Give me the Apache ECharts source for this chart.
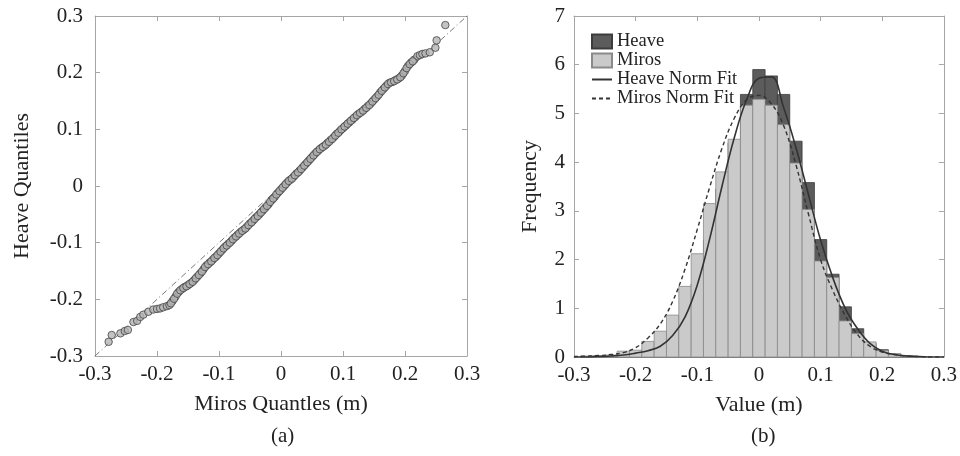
<!DOCTYPE html>
<html>
<head>
<meta charset="utf-8">
<script src="https://cdn.jsdelivr.net/npm/echarts@6.0.0/dist/echarts.min.js"></script>
<style>
  html, body { margin: 0; padding: 0; background: #fff; }
  #chart { width: 960px; height: 456px; }
</style>
</head>
<body>
<div id="chart"></div>
<script>
// (a) Q-Q plot, quantile pairs
const qqMiros = [
  -0.278, -0.273, -0.259, -0.252, -0.247, -0.238, -0.232, -0.227, -0.222, -0.214,
  -0.206, -0.200, -0.195, -0.190, -0.184,
  -0.180, -0.175, -0.170, -0.165, -0.160, -0.155, -0.150, -0.145, -0.140, -0.135,
  -0.130, -0.125, -0.120, -0.115, -0.110, -0.105, -0.100, -0.095, -0.090, -0.085,
  -0.080, -0.075, -0.070, -0.065, -0.060, -0.055, -0.050, -0.045, -0.040, -0.035,
  -0.030, -0.025, -0.020, -0.015, -0.010, -0.005, 0.000, 0.005, 0.010, 0.015,
  0.020, 0.025, 0.030, 0.035, 0.040, 0.045, 0.050, 0.055, 0.060, 0.065,
  0.070, 0.075, 0.080, 0.085, 0.090, 0.095, 0.100, 0.105, 0.110, 0.115,
  0.120, 0.125, 0.130, 0.135, 0.140, 0.145, 0.150, 0.155, 0.160, 0.165,
  0.170, 0.175, 0.180, 0.185, 0.190, 0.195, 0.200, 0.205, 0.210, 0.215,
  0.220, 0.224, 0.228, 0.233, 0.240, 0.249, 0.251, 0.265
];
const qqHeave = [
  -0.275, -0.263, -0.260, -0.256, -0.254, -0.240, -0.238, -0.231, -0.227, -0.222,
  -0.218, -0.217, -0.216, -0.214, -0.212,
  -0.210, -0.203, -0.195, -0.187, -0.182, -0.178, -0.175, -0.171, -0.166, -0.160,
  -0.154, -0.147, -0.140, -0.135, -0.130, -0.125, -0.119, -0.113, -0.107, -0.102,
  -0.097, -0.091, -0.086, -0.081, -0.077, -0.072, -0.066, -0.061, -0.055, -0.050,
  -0.044, -0.038, -0.032, -0.025, -0.019, -0.012, -0.006, 0.000, 0.006, 0.011,
  0.016, 0.022, 0.027, 0.033, 0.039, 0.045, 0.051, 0.057, 0.062, 0.067,
  0.071, 0.076, 0.081, 0.086, 0.092, 0.097, 0.102, 0.107, 0.112, 0.117,
  0.122, 0.127, 0.131, 0.136, 0.141, 0.146, 0.152, 0.158, 0.165, 0.171,
  0.177, 0.182, 0.184, 0.187, 0.190, 0.195, 0.203, 0.212, 0.218, 0.223,
  0.229, 0.231, 0.233, 0.234, 0.236, 0.244, 0.257, 0.284
];
// extra quantile pairs from the dense middle of the band
const qqMirosMid = [
  -0.1775, -0.1725, -0.1675, -0.1625, -0.1575, -0.1525, -0.1475, -0.1425, -0.1375, -0.1325,
  -0.1275, -0.1225, -0.1175, -0.1125, -0.1075, -0.1025, -0.0975, -0.0925, -0.0875, -0.0825,
  -0.0775, -0.0725, -0.0675, -0.0625, -0.0575, -0.0525, -0.0475, -0.0425, -0.0375, -0.0325,
  -0.0275, -0.0225, -0.0175, -0.0125, -0.0075, -0.0025, 0.0025, 0.0075, 0.0125, 0.0175,
  0.0225, 0.0275, 0.0325, 0.0375, 0.0425, 0.0475, 0.0525, 0.0575, 0.0625, 0.0675,
  0.0725, 0.0775, 0.0825, 0.0875, 0.0925, 0.0975, 0.1025, 0.1075, 0.1125, 0.1175,
  0.1225, 0.1275, 0.1325, 0.1375, 0.1425, 0.1475, 0.1525, 0.1575, 0.1625, 0.1675,
  0.1725, 0.1775, 0.1825, 0.1875, 0.1925, 0.1975, 0.2025, 0.2075, 0.2125
];
const qqHeaveMid = [
  -0.207, -0.199, -0.190, -0.184, -0.180, -0.177, -0.173, -0.169, -0.163, -0.157,
  -0.151, -0.143, -0.138, -0.133, -0.127, -0.122, -0.116, -0.110, -0.105, -0.100,
  -0.094, -0.089, -0.084, -0.079, -0.075, -0.069, -0.064, -0.058, -0.053, -0.047,
  -0.041, -0.035, -0.028, -0.022, -0.015, -0.009, -0.003, 0.003, 0.009, 0.013,
  0.019, 0.024, 0.030, 0.036, 0.042, 0.048, 0.054, 0.060, 0.065, 0.069,
  0.073, 0.078, 0.083, 0.089, 0.094, 0.100, 0.105, 0.110, 0.115, 0.120,
  0.125, 0.129, 0.133, 0.138, 0.143, 0.149, 0.155, 0.161, 0.168, 0.174,
  0.180, 0.183, 0.185, 0.188, 0.192, 0.199, 0.208, 0.215, 0.220
];
const refLine = [[-0.3, -0.3], [0.3, 0.3]];
const qqTicks = [-0.3, -0.2, -0.1, 0, 0.1, 0.2, 0.3];

// (b) histogram, bin centres (width 0.02)
const binCenters = [
  -0.28, -0.26, -0.24, -0.22, -0.20, -0.18, -0.16, -0.14, -0.12, -0.10,
  -0.08, -0.06, -0.04, -0.02, 0.00, 0.02, 0.04, 0.06, 0.08, 0.10,
  0.12, 0.14, 0.16, 0.18, 0.20, 0.22, 0.24, 0.26
];
const binWidth = 0.02;
const heaveFreq = [
  0.01, 0.01, 0.02, 0.04, 0.08, 0.15, 0.30, 0.50, 0.85, 1.50,
  2.40, 3.45, 4.40, 5.39, 5.90, 5.77, 5.39, 4.43, 3.58, 2.41,
  1.70, 1.03, 0.58, 0.28, 0.15, 0.06, 0.02, 0.01
];
const mirosFreq = [
  0.02, 0.03, 0.04, 0.12, 0.14, 0.32, 0.53, 0.86, 1.45, 2.12,
  3.15, 3.80, 4.47, 5.17, 5.29, 5.17, 4.77, 3.98, 3.03, 1.97,
  1.63, 0.74, 0.48, 0.31, 0.13, 0.07, 0.03, 0.01
];
const fitX = [
  -0.30, -0.28, -0.26, -0.24, -0.22, -0.20, -0.18, -0.16, -0.14, -0.12, -0.10,
  -0.08, -0.06, -0.04, -0.02, 0.00, 0.02, 0.04, 0.06, 0.08, 0.10,
  0.12, 0.14, 0.16, 0.18, 0.20, 0.22, 0.24, 0.26, 0.28, 0.30
];
const heaveFit = [
  0.00, 0.00, 0.01, 0.02, 0.04, 0.08, 0.13, 0.22, 0.44, 0.82, 1.48,
  2.42, 3.50, 4.50, 5.28, 5.72, 5.75, 5.12, 4.30, 3.35, 2.40,
  1.62, 1.00, 0.58, 0.28, 0.12, 0.05, 0.02, 0.01, 0.00, 0.00
];
const mirosFit = [
  0.01, 0.02, 0.03, 0.05, 0.09, 0.19, 0.39, 0.68, 1.14, 1.80, 2.62,
  3.48, 4.28, 4.90, 5.28, 5.37, 5.20, 4.75, 3.95, 2.95, 2.00,
  1.36, 0.85, 0.46, 0.22, 0.10, 0.05, 0.02, 0.01, 0.00, 0.00
];
const freqTicks = [0, 1, 2, 3, 4, 5, 6, 7];

const serif = "'Liberation Serif', 'Times New Roman', serif";
const boxColor = '#a6a6a6';
const textColor = '#222';
const tickFont = 21;

function fmtTick(v) {
  return Math.abs(v) < 1e-9 ? '0' : (+v.toFixed(1)).toString();
}

function valueAxis(gridIndex, ticks, opts) {
  return Object.assign({
    gridIndex: gridIndex,
    type: 'value',
    min: ticks[0],
    max: ticks[ticks.length - 1],
    interval: ticks[1] - ticks[0],
    axisLine: { show: true, onZero: false, lineStyle: { color: boxColor, width: 1 } },
    axisTick: { show: true, inside: true, length: 5, lineStyle: { color: boxColor } },
    splitLine: { show: false },
    axisLabel: { show: false },
    nameTextStyle: { color: textColor, fontFamily: serif, fontSize: 22 },
    nameLocation: 'middle'
  }, opts);
}

function tickLabels(margin) {
  return { show: true, color: textColor, fontFamily: serif, fontSize: tickFont, margin: margin, formatter: fmtTick };
}

function binData(values) {
  return binCenters.map((c, i) => [c - binWidth / 2, c + binWidth / 2, values[i]]);
}

function barRenderer(fill, stroke) {
  return function (params, api) {
    const p0 = api.coord([api.value(0), api.value(2)]);
    const p1 = api.coord([api.value(1), 0]);
    return {
      type: 'rect',
      shape: { x: p0[0], y: p0[1], width: p1[0] - p0[0], height: p1[1] - p0[1] },
      style: { fill: fill, stroke: stroke, lineWidth: 0.8 }
    };
  };
}

const chart = echarts.init(document.getElementById('chart'));

chart.setOption({
  animation: false,
  backgroundColor: '#fff',
  grid: [
    { left: 95, top: 16, width: 372, height: 340 },
    { left: 574, top: 16, width: 373, height: 341 }
  ],
  xAxis: [
    valueAxis(0, qqTicks, { name: 'Miros Quantles (m)', nameGap: 37, axisLabel: tickLabels(8) }),
    valueAxis(0, qqTicks, { position: 'top' }),
    valueAxis(1, qqTicks, { name: 'Value (m)', nameGap: 37, axisLabel: tickLabels(8) }),
    valueAxis(1, qqTicks, { position: 'top' })
  ],
  yAxis: [
    valueAxis(0, qqTicks, { name: 'Heave Quantiles', nameGap: 62, axisLabel: tickLabels(12) }),
    valueAxis(0, qqTicks, { position: 'right' }),
    valueAxis(1, freqTicks, { name: 'Frequency', nameGap: 33, axisLabel: tickLabels(9) }),
    valueAxis(1, freqTicks, { position: 'right' })
  ],
  legend: {
    orient: 'vertical',
    left: 586,
    top: 27,
    itemWidth: 20,
    itemHeight: 14,
    itemGap: 0,
    textStyle: { color: textColor, fontFamily: serif, fontSize: 18.5 },
    data: [
      { name: 'Heave', icon: 'rect' },
      { name: 'Miros', icon: 'rect' },
      { name: 'Heave Norm Fit', itemStyle: { opacity: 0 } },
      { name: 'Miros Norm Fit', itemStyle: { opacity: 0 } }
    ]
  },
  series: [
    {
      type: 'line',
      xAxisIndex: 0,
      yAxisIndex: 0,
      data: refLine,
      symbol: 'none',
      lineStyle: { color: '#555', width: 0.8, type: [6, 3, 1, 3] },
      z: 2
    },
    {
      type: 'scatter',
      xAxisIndex: 0,
      yAxisIndex: 0,
      data: qqMiros.map((x, i) => [x, qqHeave[i]])
        .concat(qqMirosMid.map((x, i) => [x, qqHeaveMid[i]])),
      symbol: 'circle',
      symbolSize: 7.5,
      itemStyle: { color: '#b4b4b4', borderColor: '#444', borderWidth: 1 },
      z: 3
    },
    {
      name: 'Heave',
      type: 'custom',
      xAxisIndex: 2,
      yAxisIndex: 2,
      data: binData(heaveFreq),
      encode: { x: [0, 1], y: 2 },
      renderItem: barRenderer('#5c5c5c', '#3c3c3c'),
      itemStyle: { color: '#5c5c5c', borderColor: '#3c3c3c', borderWidth: 1 },
      z: 2
    },
    {
      name: 'Miros',
      type: 'custom',
      xAxisIndex: 2,
      yAxisIndex: 2,
      data: binData(mirosFreq),
      encode: { x: [0, 1], y: 2 },
      renderItem: barRenderer('#cacaca', '#8a8a8a'),
      itemStyle: { color: '#cacaca', borderColor: '#8a8a8a', borderWidth: 1 },
      z: 2
    },
    {
      name: 'Heave Norm Fit',
      type: 'line',
      xAxisIndex: 2,
      yAxisIndex: 2,
      data: fitX.map((x, i) => [x, heaveFit[i]]),
      symbol: 'none',
      smooth: 0.4,
      lineStyle: { color: '#333', width: 1.6, type: 'solid' },
      itemStyle: { color: '#333' },
      z: 4
    },
    {
      name: 'Miros Norm Fit',
      type: 'line',
      xAxisIndex: 2,
      yAxisIndex: 2,
      data: fitX.map((x, i) => [x, mirosFit[i]]),
      symbol: 'none',
      smooth: 0.4,
      lineStyle: { color: '#333', width: 1.4, type: [4, 3] },
      itemStyle: { color: '#333' },
      z: 4
    }
  ],
  graphic: [
    { type: 'text', left: 271, top: 426, style: { text: '(a)', fill: textColor, font: '21px ' + serif } },
    { type: 'text', left: 751, top: 426, style: { text: '(b)', fill: textColor, font: '21px ' + serif } }
  ]
});
</script>
</body>
</html>
